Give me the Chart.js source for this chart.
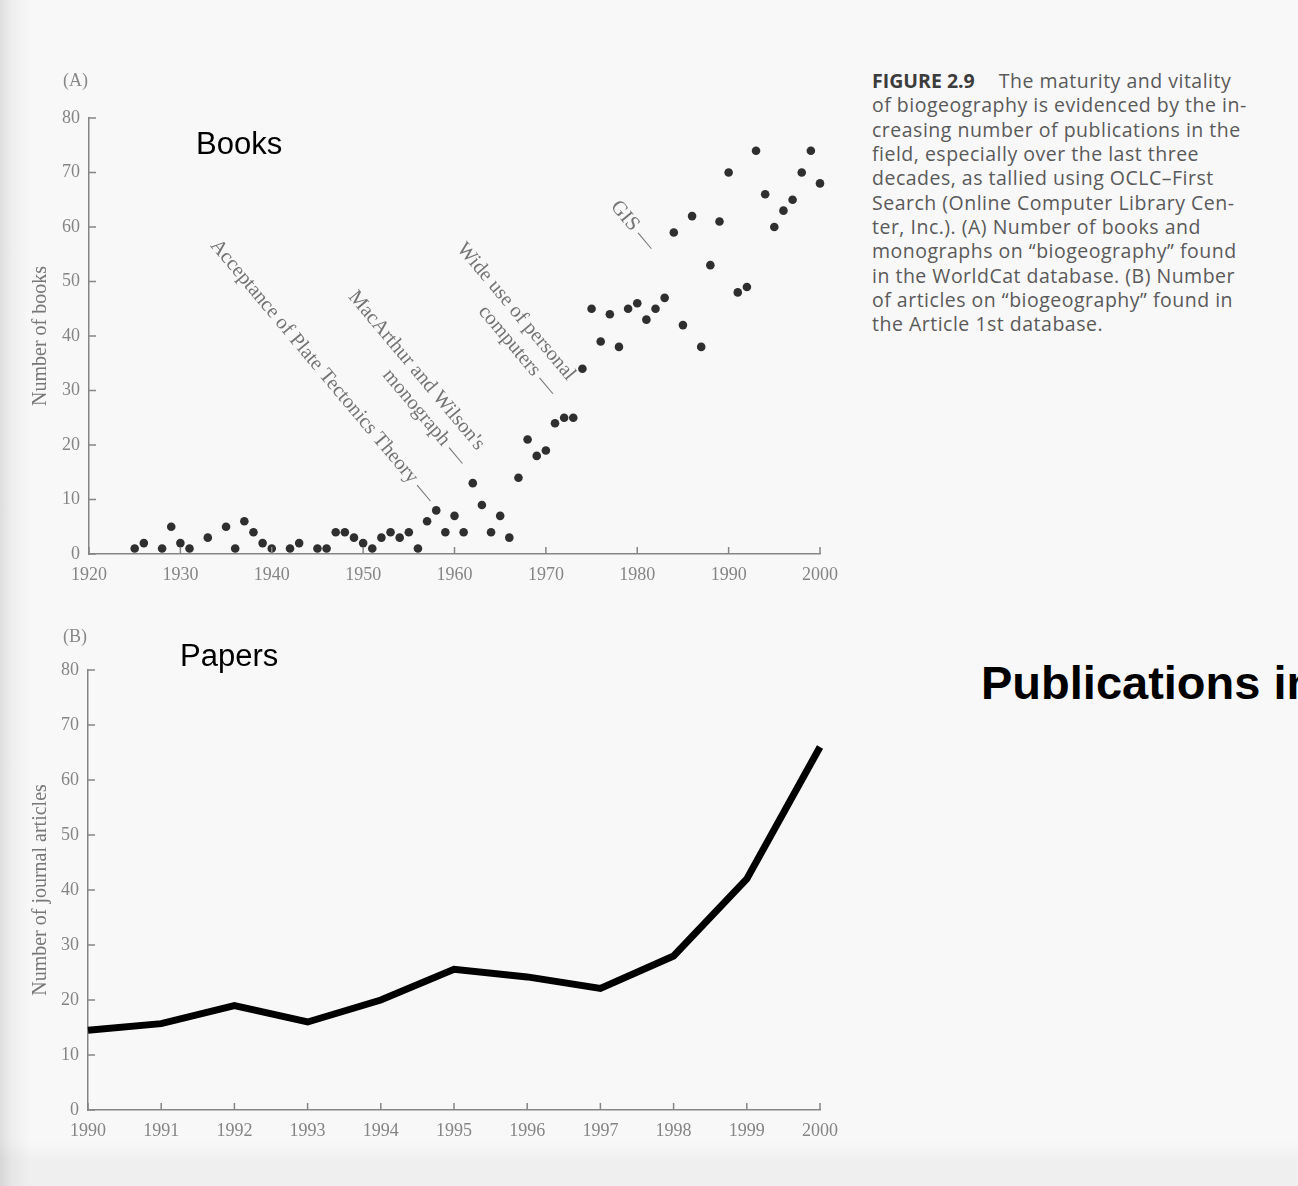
<!DOCTYPE html>
<html>
<head>
<meta charset="utf-8">
<script src="https://cdn.jsdelivr.net/npm/chart.js@4.4.1/dist/chart.umd.min.js"></script>
<style>
  html, body { margin: 0; padding: 0; }
  body {
    width: 1298px; height: 1186px; position: relative; overflow: hidden;
    background:
      linear-gradient(to bottom, rgba(0,0,0,0) 1140px, rgba(0,0,0,0.035) 1160px),
      linear-gradient(to right, #dedede 0px, #eeeeee 12px, #f8f8f8 30px);
  }
  canvas { position: absolute; left: 0; }
  #booksChart { top: 0; }
  #papersChart { top: 600px; }
  .lbl { position: absolute; white-space: nowrap; margin: 0; }
  .panel { font: 18px/18px "Liberation Serif", serif; color: #888; }
  .big { font: 31px/31px "Liberation Sans", Arial, sans-serif; color: #000; }
  #pubs { left: 981px; top: 659px; font: bold 47px/47px "Liberation Sans", Arial, sans-serif; color: #000; }
  #caption {
    left: 872px; top: 69px; font: 19.5px/24.34px "Open Sans", sans-serif; color: #5a5a5a;
    letter-spacing: 0.5px;
  }
  #caption b { color: #3c3c3c; margin-right: 24px; letter-spacing: 0; }
</style>
</head>
<body>
<canvas id="booksChart" width="860" height="600"></canvas>
<canvas id="papersChart" width="860" height="560"></canvas>

<div class="lbl panel" style="left:63px; top:71px;">(A)</div>
<div class="lbl panel" style="left:63px; top:627px;">(B)</div>
<div class="lbl big" style="left:196px; top:128px;">Books</div>
<div class="lbl big" style="left:180px; top:640px;">Papers</div>
<div class="lbl" id="pubs">Publications in</div>
<div class="lbl" id="caption"><b>FIGURE 2.9</b>The maturity and vitality<br>of biogeography is evidenced by the in-<br>creasing number of publications in the<br>field, especially over the last three<br>decades, as tallied using OCLC–First<br>Search (Online Computer Library Cen-<br>ter, Inc.). (A) Number of books and<br>monographs on “biogeography” found<br>in the WorldCat database. (B) Number<br>of articles on “biogeography” found in<br>the Article 1st database.</div>

<script>
// books per year, panel A (years with no dot are left out)
const bookYears = [1925,1926,1928,1929,1930,1931,1933,1935,1936,1937,1938,1939,1940,1942,1943,
  1945,1946,1947,1948,1949,1950,1951,1952,1953,1954,1955,1956,1957,1958,1959,1960,1961,1962,1963,
  1964,1965,1966,1967,1968,1969,1970,1971,1972,1973,1974,1975,1976,1977,1978,1979,1980,1981,1982,
  1983,1984,1985,1986,1987,1988,1989,1990,1991,1992,1993,1994,1995,1996,1997,1998,1999,2000];
const bookCounts = [1,2,1,5,2,1,3,5,1,6,4,2,1,1,2,
  1,1,4,4,3,2,1,3,4,3,4,1,6,8,4,7,4,13,9,
  4,7,3,14,21,18,19,24,25,25,34,45,39,44,38,45,46,43,45,
  47,59,42,62,38,53,61,70,48,49,74,66,60,63,65,70,74,68];

// journal articles per year, panel B
const paperYears = [1990,1991,1992,1993,1994,1995,1996,1997,1998,1999,2000];
const paperCounts = [14.5,15.7,19,16,20,25.6,24.2,22.1,28,42,66];

// rotated notes on panel A, anchored where the dash ends
const noteText = [
  ["Acceptance of Plate Tectonics Theory —"],
  ["MacArthur and Wilson's", "monograph —"],
  ["Wide use of personal", "computers —"],
  ["GIS —"]
];
const noteYears = [1957.4, 1960.9, 1970.8, 1981.6];
const noteCounts = [9.8, 16.7, 29.5, 56.1];

const tickFont = { family: '"Liberation Serif", serif', size: 18 };
const gray = '#858585';

// small tick marks drawn inside the plot, like the printed figure
const innerTicks = {
  id: 'innerTicks',
  afterDraw(chart) {
    const { ctx, chartArea: a, scales: { x, y } } = chart;
    ctx.save();
    ctx.strokeStyle = gray;
    ctx.lineWidth = 1.5;
    ctx.beginPath();
    x.ticks.forEach(t => {
      const px = x.getPixelForValue(t.value);
      ctx.moveTo(px, a.bottom);
      ctx.lineTo(px, a.bottom - 7);
    });
    y.ticks.forEach(t => {
      const py = y.getPixelForValue(t.value);
      ctx.moveTo(a.left, py);
      ctx.lineTo(a.left + 7, py);
    });
    ctx.stroke();
    ctx.restore();
  }
};

const notesPlugin = {
  id: 'notes',
  afterDatasetsDraw(chart) {
    const { ctx, scales: { x, y } } = chart;
    ctx.save();
    ctx.font = '20.5px "Liberation Serif", serif';
    ctx.fillStyle = '#747474';
    ctx.textAlign = 'right';
    ctx.textBaseline = 'middle';
    noteText.forEach((lines, i) => {
      ctx.save();
      ctx.translate(x.getPixelForValue(noteYears[i]), y.getPixelForValue(noteCounts[i]));
      ctx.rotate(50 * Math.PI / 180);
      lines.forEach((line, j) => ctx.fillText(line, 0, -(lines.length - 1 - j) * 24));
      ctx.restore();
    });
    ctx.restore();
  }
};

function axes(xMin, xMax, xStep, yTitle, yWidth, xHeight) {
  return {
    x: {
      type: 'linear', min: xMin, max: xMax,
      afterFit: s => { s.height = xHeight; },
      grid: { display: false, drawTicks: false },
      border: { display: true, color: gray, width: 1.5 },
      ticks: { stepSize: xStep, color: gray, font: tickFont, padding: 10, maxRotation: 0,
        callback: v => String(v) }
    },
    y: {
      min: 0, max: 80,
      afterFit: s => { s.width = yWidth; },
      grid: { display: false, drawTicks: false },
      border: { display: true, color: gray, width: 1.5 },
      ticks: { stepSize: 10, color: gray, font: tickFont, padding: 9 },
      title: { display: true, text: yTitle, color: '#777', padding: { top: 29 },
        font: { family: '"Liberation Serif", serif', size: 20 } }
    }
  };
}

const booksChart = new Chart(document.getElementById('booksChart'), {
  type: 'scatter',
  data: {
    datasets: [{
      label: 'Books',
      data: bookYears.map((yr, i) => ({ x: yr, y: bookCounts[i] })),
      backgroundColor: '#2f2f2f',
      borderWidth: 0,
      pointRadius: 4.3,
      clip: false
    }]
  },
  options: {
    responsive: false,
    devicePixelRatio: 1,
    animation: false,
    layout: { padding: { top: 118, right: 40, left: 0, bottom: 0 } },
    plugins: { legend: { display: false }, tooltip: { enabled: false } },
    scales: axes(1920, 2000, 10, 'Number of books', 89, 46)
  },
  plugins: [innerTicks, notesPlugin]
});

const papersChart = new Chart(document.getElementById('papersChart'), {
  type: 'line',
  data: {
    datasets: [{
      label: 'Papers',
      data: paperYears.map((yr, i) => ({ x: yr, y: paperCounts[i] })),
      borderColor: '#000',
      borderWidth: 7,
      borderJoinStyle: 'miter',
      pointRadius: 0,
      tension: 0,
      fill: false,
      clip: false
    }]
  },
  options: {
    responsive: false,
    devicePixelRatio: 1,
    animation: false,
    layout: { padding: { top: 70, right: 40, left: 0, bottom: 0 } },
    plugins: { legend: { display: false }, tooltip: { enabled: false } },
    scales: axes(1990, 2000, 1, 'Number of journal articles', 88, 50)
  },
  plugins: [innerTicks]
});
</script>
</body>
</html>
